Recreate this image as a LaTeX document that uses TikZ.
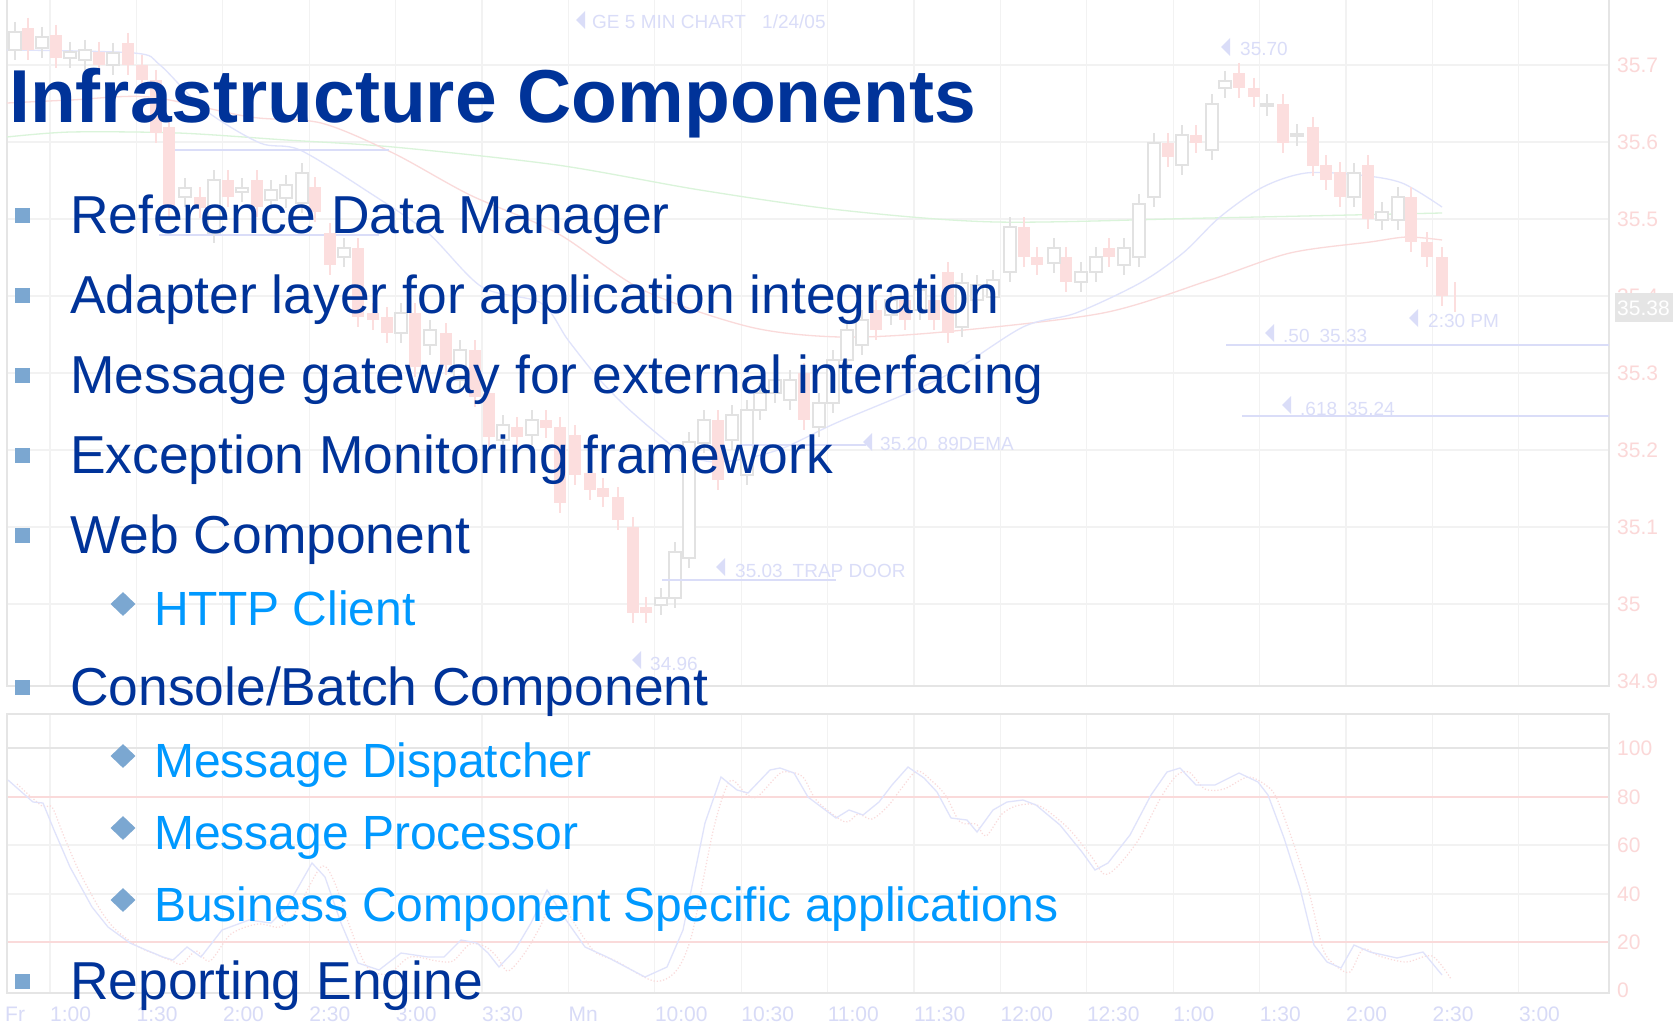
\documentclass[tikz,border=0pt]{standalone}
\usepackage{fontspec}
\setmainfont{Liberation Sans}
\usetikzlibrary{shapes.geometric}
\definecolor{ttl}{HTML}{003399}
\definecolor{lvlA}{HTML}{003399}
\definecolor{lvlB}{HTML}{0099FF}
\definecolor{bul}{HTML}{7BA7D1}
\definecolor{gridc}{HTML}{F2F2F2}
\definecolor{framec}{HTML}{E5E5E5}
\definecolor{candR}{HTML}{FCDEDE}
\definecolor{candW}{HTML}{E2E2E2}
\definecolor{maB}{HTML}{E0E3FB}
\definecolor{maR}{HTML}{FADADA}
\definecolor{maG}{HTML}{DAF4DA}
\definecolor{axR}{HTML}{FBD8D8}
\definecolor{axB}{HTML}{D8DBF7}
\definecolor{annC}{HTML}{DADDF8}
\tikzset{
  titletext/.style={anchor=base west, inner sep=0, text=ttl, font=\fontsize{75}{80}\selectfont\bfseries},
  itemA/.style={anchor=base west, inner sep=0, text=lvlA, font=\fontsize{53.4}{60}\selectfont},
  itemB/.style={anchor=base west, inner sep=0, text=lvlB, font=\fontsize{48}{54}\selectfont},
  sqbul/.style={rectangle, fill=bul, minimum width=15pt, minimum height=15pt, inner sep=0},
  dmbul/.style={diamond, fill=bul, minimum width=25pt, minimum height=24pt, inner sep=0},
  axlbl/.style={anchor=west, inner sep=0, text=axR, font=\fontsize{21}{21}\selectfont},
  axlblB/.style={anchor=west, inner sep=0, text=axB, font=\fontsize{21}{21}\selectfont},
  anntext/.style={anchor=west, inner sep=0, text=annC, font=\fontsize{19}{19}\selectfont},
  gridline/.style={draw=gridc, line width=1.2pt},
  framel/.style={draw=framec, line width=2pt},
  redc/.style={fill=candR},
  whitec/.style={fill=white, draw=candW, line width=1.2pt},
}
\begin{document}
\begin{tikzpicture}[x=1pt,y=-1pt]
\useasboundingbox (0,0) rectangle (1673,1025);
\fill[white] (0,0) rectangle (1673,1025);
% vertical grid
\foreach \k in {0,...,17}{
  \draw[gridline] (50+86.4*\k,0) -- (50+86.4*\k,686);
  \draw[gridline] (50+86.4*\k,714) -- (50+86.4*\k,993);
}
% horizontal grid
\foreach \y in {65,142,219,296,373,450,527,604}{
  \draw[gridline] (7,\y) -- (1609,\y);
}
\foreach \y in {845,894}{
  \draw[gridline] (7,\y) -- (1609,\y);
}
\draw[framec, line width=2pt] (7,748) -- (1609,748);
\draw[maR, line width=1.5pt] (7,797) -- (1609,797);
\draw[maR, line width=1.5pt] (7,942) -- (1609,942);
% frames
\draw[framel] (7,0) -- (7,686) -- (1609,686) -- (1609,0);
\draw[framel] (7,714) rectangle (1609,993);
% moving averages
\draw[maG, line width=1.3pt] plot[smooth] coordinates {(7,137) (71,132) (178,133) (286,140) (393,147) (557,165) (700,190) (840,210) (996,222) (1210,218) (1442,213)};
\draw[maR, line width=1.3pt] plot[smooth] coordinates {(7,103) (71,100) (150,97) (250,117) (321,123) (393,153) (470,195) (557,233) (643,290) (750,327) (840,337) (943,332) (1103,313) (1210,280) (1290,253) (1370,242) (1407,237) (1442,240)};
\draw[maB, line width=1.3pt] plot[smooth] coordinates {(7,50) (134,53) (160,65) (205,110) (260,143) (300,150) (370,193) (428,233) (482,287) (541,303) (568,340) (600,380) (633,413) (683,453) (721,462) (778,450) (836,423) (943,377) (1023,327) (1076,313) (1140,283) (1183,253) (1220,217) (1263,187) (1306,173) (1359,175) (1402,183) (1442,207)};
\draw[annC, line width=1.3pt] (171,150) -- (389,150);
\draw[annC, line width=1.3pt] (159,235) -- (379,235);
% red candles
\foreach \x/\t/\b in {28/28/50,56/35/58,99/52/65,128/43/65,142/65/80,156/80/133,169/127/207,200/197/208,228/180/197,257/180/207,315/187/212,330/233/265,358/248/317,373/313/320,387/317/333,415/313/367,446/333/365,475/350/397,489/393/437,517/427/437,546/420/428,560/427/503,575/435/475,590/473/490,603/488/497,618/497/520,633/527/613,646/607/613,718/420/480,804/373/420,876/310/330,905/300/320,934/300/320,948/272/333,1024/227/257,1037/257/265,1066/257/282,1109/248/257,1168/143/157,1196/135/143,1239/73/88,1254/88/97,1283/104/143,1313/127/166,1326/165/180,1340/172/197,1368/165/219,1411/197/242,1427/242/257,1442/257/296}{
  \draw[candR, line width=1.5pt] (\x,\t-10) -- (\x,\b+10);
  \fill[redc] (\x-6,\t) rectangle (\x+6,\b);
}
\draw[candR, line width=1.5pt] (1455,282) -- (1455,312);
% white candles
\foreach \x/\t/\b in {15/32/50,42/37/48,70/52/58,85/50/60,113/53/65,185/188/197,214/180/233,242/188/192,271/190/200,286/185/198,302/173/203,344/248/257,401/313/333,430/330/345,460/350/380,503/425/440,532/420/435,661/598/605,675/552/598,689/442/558,704/420/443,732/415/440,747/410/475,760/393/410,775/380/393,790/380/400,819/403/427,833/360/403,847/330/360,862/320/345,891/300/315,920/290/310,962/283/327,977/285/300,993/280/297,1010/227/272,1054/248/263,1081/272/282,1096/257/272,1124/248/265,1139/204/257,1154/143/197,1182/135/165,1212/104/150,1225/81/88,1267/104/106,1297/134/136,1354/173/197,1382/212/220,1398/197/220}{
  \draw[candW, line width=1.2pt] (\x,\t-10) -- (\x,\b+10);
  \filldraw[whitec] (\x-6,\t) rectangle (\x+6,\b);
}
% annotation lines
\draw[annC, line width=1.5pt] (1226,345) -- (1609,345);
\draw[annC, line width=1.5pt] (1242,416) -- (1609,416);
\draw[annC, line width=1.5pt] (740,445) -- (866,445);
\draw[annC, line width=1.5pt] (662,580) -- (836,580);
% annotation triangles and texts
\foreach \x/\y in {581/20,1226/47,1414/318,1270/333,1287/405,868/442,721/567,637/660}{
  \fill[annC] (\x-5,\y) -- (\x+4,\y-9) -- (\x+4,\y+9) -- cycle;
}
\node[anntext] (annGE) at (592,22) {GE 5 MIN CHART};
\node[anntext] (annDate) at (762,22) {1/24/05};
\node[anntext] (annHi) at (1240,49) {35.70};
\node[anntext] (annPM) at (1428,321) {2:30 PM};
\node[anntext] (annFifty) at (1283,336) {.50\hspace{10pt}35.33};
\node[anntext] (annFib) at (1300,409) {.618\hspace{10pt}35.24};
\node[anntext] (annDema) at (880,444) {35.20\hspace{10pt}89DEMA};
\node[anntext] (annTrap) at (735,571) {35.03\hspace{10pt}TRAP DOOR};
\node[anntext] (annLow) at (650,664) {34.96};
% stochastic
\draw[maR, line width=1.2pt, dotted, xshift=9pt, yshift=-4pt] plot[smooth] coordinates {(8,780) (33,802) (43,803) (54,830) (70,867) (92,907) (108,927) (130,943) (146,950) (163,957) (173,960) (187,947) (201,957) (222,930) (249,920) (271,923) (287,907) (312,863) (325,877) (341,923) (358,963) (379,970) (401,953) (428,957) (444,957) (461,940) (477,943) (488,953) (499,967) (515,950) (531,923) (547,890) (564,917) (585,947) (607,957) (645,977) (667,967) (683,930) (705,823) (721,777) (737,790) (748,793) (770,770) (780,768) (794,773) (808,797) (836,818) (849,810) (863,815) (879,802) (892,785) (908,767) (924,778) (937,792) (951,818) (967,820) (977,832) (993,810) (1007,802) (1023,800) (1036,805) (1060,825) (1082,852) (1095,870) (1108,863) (1130,835) (1151,795) (1167,772) (1180,768) (1196,785) (1215,785) (1239,773) (1258,782) (1268,795) (1284,838) (1300,888) (1314,945) (1327,962) (1341,968) (1354,945) (1370,952) (1397,958) (1423,952) (1442,975)};
\draw[maB, line width=1.3pt] plot coordinates {(8,780) (33,802) (43,803) (54,830) (70,867) (92,907) (108,927) (130,943) (146,950) (163,957) (173,960) (187,947) (201,957) (222,930) (249,920) (271,923) (287,907) (312,863) (325,877) (341,923) (358,963) (379,970) (401,953) (428,957) (444,957) (461,940) (477,943) (488,953) (499,967) (515,950) (531,923) (547,890) (564,917) (585,947) (607,957) (645,977) (667,967) (683,930) (705,823) (721,777) (737,790) (748,793) (770,770) (780,768) (794,773) (808,797) (836,818) (849,810) (863,815) (879,802) (892,785) (908,767) (924,778) (937,792) (951,818) (967,820) (977,832) (993,810) (1007,802) (1023,800) (1036,805) (1060,825) (1082,852) (1095,870) (1108,863) (1130,835) (1151,795) (1167,772) (1180,768) (1196,785) (1215,785) (1239,773) (1258,782) (1268,795) (1284,838) (1300,888) (1314,945) (1327,962) (1341,968) (1354,945) (1370,952) (1397,958) (1423,952) (1442,975)};
% right axis labels
\foreach \v/\y in {35.7/65,35.6/142,35.5/219,35.4/296,35.3/373,35.2/450,35.1/527,35/604,34.9/681,100/748,80/797,60/845,40/894,20/942,0/990}{
  \node[axlbl] at (1617,\y) {\v};
}
\fill[framec] (1615,293) rectangle (1673,322);
\node[anchor=west, inner sep=0, text=white, font=\fontsize{21}{21}\selectfont] (lastpx) at (1617,308) {35.38};
% bottom axis labels
\node[axlblB] (tFr) at (5,1014) {Fr};
\foreach \t [count=\i from 0] in {1:00,1:30,2:00,2:30,3:00,3:30,Mn,10:00,10:30,11:00,11:30,12:00,12:30,1:00,1:30,2:00,2:30,3:00}{
  \node[axlblB] at (50+86.4*\i,1014) {\t};
}
% foreground text
\node[titletext] (title) at (9,122) {Infrastructure Components};
\node[itemA] (a1) at (70,233) {Reference Data Manager};
\node[itemA] (a2) at (70,313) {Adapter layer for application integration};
\node[itemA] (a3) at (70,393) {Message gateway for external interfacing};
\node[itemA] (a4) at (70,473) {Exception Monitoring framework};
\node[itemA] (a5) at (70,553) {Web Component};
\node[itemB] (b1) at (154,625) {HTTP Client};
\node[itemA] (a6) at (70,705) {Console/Batch Component};
\node[itemB] (b2) at (154,777) {Message Dispatcher};
\node[itemB] (b3) at (154,849) {Message Processor};
\node[itemB] (b4) at (154,921) {Business Component Specific applications};
\node[itemA] (a7) at (70,999) {Reporting Engine};
% bullets
\foreach \n/\y in {s1/233,s2/313,s3/393,s4/473,s5/553,s6/705,s7/999}{
  \node[sqbul] (\n) at (22,\y-18) {};
}
\foreach \n/\y in {d1/625,d2/777,d3/849,d4/921}{
  \node[dmbul] (\n) at (123,\y-21) {};
}
\end{tikzpicture}
\end{document}
